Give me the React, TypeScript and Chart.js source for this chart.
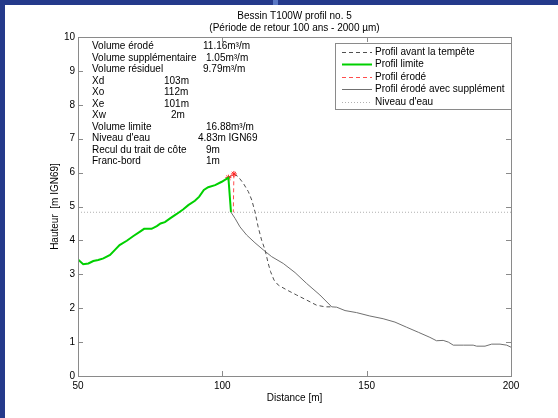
import React, { useEffect, useRef } from 'react';
import { Chart, registerables } from 'chart.js';

Chart.register(...registerables);

// ---------- data ----------
const titleLines = ['Bessin T100W profil no. 5', '(Période de retour 100 ans - 2000 µm)'];
const xAxisTitle = 'Distance [m]';
const yAxisTitle = 'Hauteur  [m IGN69]';
const xMin = 50;
const xMax = 200;
const xStep = 50;
const yMin = 0;
const yMax = 10;
const yStep = 1;

const seriesLabels = [
  'Profil avant la tempête',
  'Profil limite',
  'Profil érodé',
  'Profil érodé avec supplément',
  "Niveau d'eau",
];

// Profil limite (green)
const limiteX = [50, 51.8, 53.6, 55.3, 57.0, 58.8, 61.1, 62.8, 64.4, 66.9, 69.2, 71.5, 72.9, 75.5, 77.3, 78.6, 80.1, 81.9, 84.2, 86.5, 88.2, 90.5, 92.0, 93.6, 95.1, 97.5, 99.8, 102.1, 103.0];
const limiteY = [3.44, 3.30, 3.32, 3.39, 3.42, 3.47, 3.57, 3.72, 3.86, 3.99, 4.13, 4.26, 4.34, 4.34, 4.42, 4.50, 4.54, 4.65, 4.78, 4.92, 5.04, 5.17, 5.29, 5.49, 5.57, 5.63, 5.73, 5.85, 4.83];

// Profil avant la tempête (dashed dark grey)
const avantX = [102.1, 104.0, 105.5, 107.3, 109.0, 110.2, 111.3, 112.4, 113.6, 114.8, 115.9, 116.7, 117.9, 119.4, 122.3, 125.7, 129.2, 132.6, 135.6, 137.9];
const avantY = [5.85, 5.96, 5.88, 5.68, 5.44, 5.19, 4.85, 4.40, 4.01, 3.72, 3.32, 3.08, 2.83, 2.68, 2.54, 2.39, 2.24, 2.09, 2.04, 2.04];

// Profil érodé (red dashed, stars)
const erodeX = [102.1, 104.0, 103.8];
const erodeY = [5.85, 5.96, 4.83];

// Profil érodé avec supplément (grey solid)
const supplX = [103.0, 104.4, 106.1, 108.4, 111.3, 114.2, 117.1, 121.1, 125.2, 129.2, 133.8, 137.9, 139.6, 142.5, 146.5, 151.1, 155.7, 159.8, 163.8, 167.9, 171.9, 174.2, 176.5, 178.3, 180.0, 183.5, 186.9, 188.1, 191.0, 193.3, 196.2, 198.5, 200.0];
const supplY = [4.83, 4.65, 4.40, 4.16, 3.93, 3.72, 3.52, 3.32, 3.05, 2.73, 2.39, 2.04, 2.03, 1.93, 1.87, 1.77, 1.69, 1.59, 1.44, 1.29, 1.14, 1.04, 1.05, 1.00, 0.91, 0.91, 0.91, 0.88, 0.88, 0.94, 0.94, 0.91, 0.85];

// Niveau d'eau
const waterLevel = 4.83;

// Info block
const infoLabels = ['Volume érodé', 'Volume supplémentaire', 'Volume résiduel', 'Xd', 'Xo', 'Xe', 'Xw', 'Volume limite', "Niveau d'eau", 'Recul du trait de côte', 'Franc-bord'];
const infoValues = ['11.16m³/m', '1.05m³/m', '9.79m³/m', '103m', '112m', '101m', '2m', '16.88m³/m', '4.83m IGN69', '9m', '1m'];

// ---------- layout (pixels, not data) ----------
const infoValueOffsets = [125, 128, 125, 86, 86, 86, 93, 128, 120, 128, 128];
const FONT = 'Liberation Sans, Arial, Helvetica, sans-serif';

const zip = (xs: number[], ys: number[]) => xs.map((x, i) => ({ x, y: ys[i] }));

const bgPlugin = {
  id: 'bgFrame',
  beforeDraw(chart: any) {
    const ctx = chart.ctx;
    ctx.save();
    ctx.fillStyle = '#ffffff';
    ctx.fillRect(0, 0, chart.width, chart.height);
    ctx.fillStyle = '#243a8b';
    ctx.fillRect(0, 0, chart.width, 5);
    ctx.fillRect(0, 0, 5, chart.height);
    ctx.fillStyle = '#5a78c4';
    ctx.fillRect(273, 0, 5, 5);
    ctx.restore();
  },
};

const axesBoxPlugin = {
  id: 'axesBox',
  afterDatasetsDraw(chart: any) {
    const { ctx, chartArea: a, scales } = chart;
    ctx.save();
    ctx.strokeStyle = '#8a8a8a';
    ctx.lineWidth = 1;
    ctx.strokeRect(Math.round(a.left) + 0.5, Math.round(a.top) + 0.5, Math.round(a.right - a.left), Math.round(a.bottom - a.top));
    const tl = 5;
    ctx.beginPath();
    scales.x.ticks.forEach((t: any) => {
      const px = Math.round(scales.x.getPixelForValue(t.value)) + 0.5;
      ctx.moveTo(px, a.bottom);
      ctx.lineTo(px, a.bottom - tl);
      ctx.moveTo(px, a.top);
      ctx.lineTo(px, a.top + tl);
    });
    scales.y.ticks.forEach((t: any) => {
      const py = Math.round(scales.y.getPixelForValue(t.value)) + 0.5;
      ctx.moveTo(a.left, py);
      ctx.lineTo(a.left + tl, py);
      ctx.moveTo(a.right, py);
      ctx.lineTo(a.right - tl, py);
    });
    ctx.stroke();
    ctx.restore();
  },
};

const infoPlugin = {
  id: 'infoText',
  afterDraw(chart: any) {
    const { ctx, chartArea: a } = chart;
    ctx.save();
    ctx.font = `10px ${FONT}`;
    ctx.fillStyle = '#000';
    ctx.textBaseline = 'middle';
    ctx.textAlign = 'left';
    infoLabels.forEach((lab, i) => {
      const y = a.top + 9.5 + i * 11.5;
      ctx.fillText(lab, a.left + 14, y);
      ctx.fillText(infoValues[i], a.left + infoValueOffsets[i], y);
    });
    ctx.restore();
  },
};

const boxLegendPlugin = {
  id: 'boxLegend',
  afterDraw(chart: any) {
    const { ctx, chartArea: a } = chart;
    const ds = chart.data.datasets;
    const left = 335;
    const right = a.right;
    const top = a.top + 6;
    const rowH = 12.5;
    const bottom = top + 16 + (ds.length - 1) * rowH;
    ctx.save();
    ctx.fillStyle = '#ffffff';
    ctx.fillRect(left, top, right - left, bottom - top);
    ctx.strokeStyle = '#8a8a8a';
    ctx.lineWidth = 1;
    ctx.strokeRect(left + 0.5, top + 0.5, right - left, bottom - top);
    ctx.font = `10px ${FONT}`;
    ctx.textBaseline = 'middle';
    ctx.textAlign = 'left';
    ds.forEach((d: any, i: number) => {
      const y = Math.round(top + 8.5 + i * rowH) + 0.5;
      ctx.beginPath();
      ctx.setLineDash(d.borderDash || []);
      ctx.strokeStyle = d.borderColor;
      ctx.lineWidth = d.borderWidth;
      ctx.moveTo(left + 7, y);
      ctx.lineTo(left + 37, y);
      ctx.stroke();
      ctx.setLineDash([]);
      ctx.fillStyle = '#000';
      ctx.fillText(d.label, left + 40, y);
    });
    ctx.restore();
  },
};

export default function App() {
  const ref = useRef<HTMLCanvasElement | null>(null);
  useEffect(() => {
    if (!ref.current) return;
    const chart = new Chart(ref.current, {
      type: 'line',
      data: {
        datasets: [
          {
            label: seriesLabels[0],
            data: zip(avantX, avantY),
            borderColor: '#505050',
            borderWidth: 1,
            borderDash: [4, 3],
            pointRadius: 0,
            tension: 0,
          },
          {
            label: seriesLabels[1],
            data: zip(limiteX, limiteY),
            borderColor: '#00d000',
            borderWidth: 2,
            pointRadius: 0,
            order: -2,
            tension: 0,
          },
          {
            label: seriesLabels[2],
            data: zip(erodeX, erodeY),
            borderColor: '#ff4d4d',
            borderWidth: 1,
            borderDash: [4, 3],
            pointRadius: [3, 3, 0],
            pointStyle: 'star',
            pointBorderColor: '#ff2020',
            pointBorderWidth: 1,
            order: -1,
            tension: 0,
          },
          {
            label: seriesLabels[3],
            data: zip(supplX, supplY),
            borderColor: '#707070',
            borderWidth: 1,
            pointRadius: 0,
            tension: 0,
          },
          {
            label: seriesLabels[4],
            data: [{ x: xMin, y: waterLevel }, { x: xMax, y: waterLevel }],
            borderColor: '#b0b0b0',
            borderWidth: 1,
            borderDash: [1, 2],
            pointRadius: 0,
            tension: 0,
          },
        ],
      } as any,
      options: {
        animation: false,
        responsive: false,
        maintainAspectRatio: false,
        layout: { padding: { left: 49, right: 47, top: 0, bottom: 14 } },
        plugins: {
          legend: { display: false },
          tooltip: { enabled: false },
          title: {
            display: true,
            text: titleLines,
            color: '#000',
            fullSize: false,
            font: { family: FONT, size: 10, weight: 'normal', lineHeight: 1.2 },
            padding: { top: 10, bottom: 3 },
          },
        },
        scales: {
          x: {
            type: 'linear',
            min: xMin,
            max: xMax,
            grid: { display: false, drawTicks: false },
            border: { display: false },
            ticks: { stepSize: xStep, padding: 4, color: '#000', font: { family: FONT, size: 10 }, maxRotation: 0 },
            title: { display: true, text: xAxisTitle, color: '#000', font: { family: FONT, size: 10 }, padding: 0 },
            afterFit: (s: any) => { s.height = 28; },
          },
          y: {
            type: 'linear',
            min: yMin,
            max: yMax,
            grid: { display: false, drawTicks: false },
            border: { display: false },
            ticks: { stepSize: yStep, padding: 3, color: '#000', font: { family: FONT, size: 10 } },
            title: { display: true, text: yAxisTitle, color: '#000', font: { family: FONT, size: 10 }, padding: 0 },
            afterFit: (s: any) => { s.width = 29; },
          },
        },
      } as any,
      plugins: [bgPlugin, axesBoxPlugin, infoPlugin, boxLegendPlugin],
    });
    return () => chart.destroy();
  }, []);
  return (
    <div style={{ position: 'absolute', left: 0, top: 0, width: 558, height: 418 }}>
      <canvas ref={ref} width={558} height={418} style={{ display: 'block' }} />
    </div>
  );
}
